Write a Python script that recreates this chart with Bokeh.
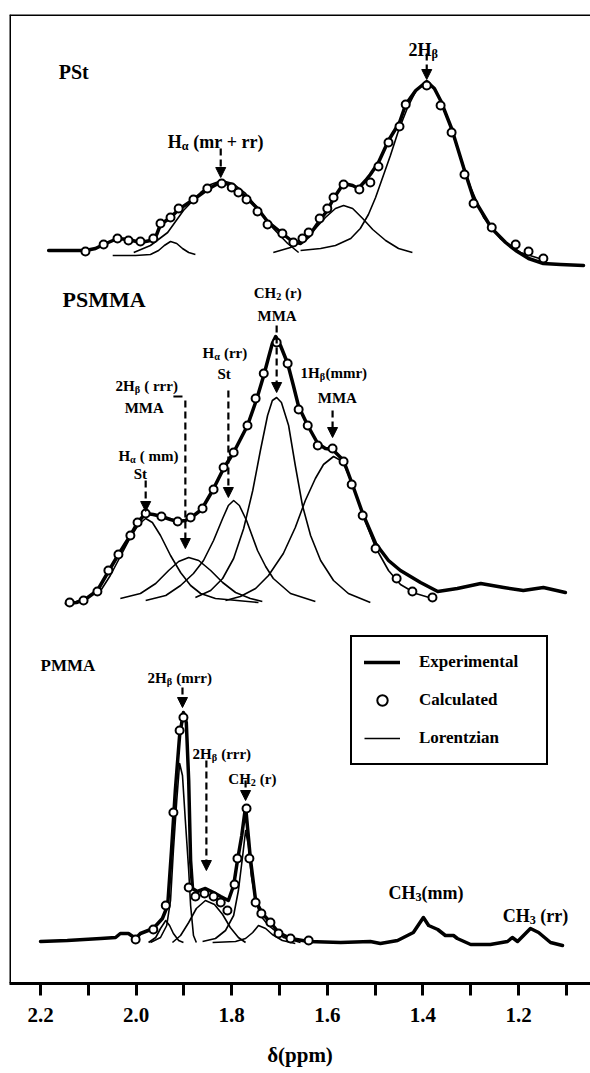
from bokeh.plotting import figure
from bokeh.models import Range1d, FixedTicker, Span, Arrow, NormalHead, Legend, LegendItem, NumeralTickFormatter
from bokeh.core.properties import value
from bokeh.embed import file_html
from bokeh.resources import INLINE

FONT = "Liberation Serif"
NB = "\u00a0"

# ---------------- data (chemical shift in ppm, intensity in arbitrary units) ----------------
tick_values = [2.2, 2.0, 1.8, 1.6, 1.4, 1.2]
minor_tick_values = [2.1, 1.9, 1.7, 1.5, 1.3, 1.1]

# baseline offsets of the stacked spectra
offset_pst = 731
offset_psmma = 383
offset_pmma = 41

# PSt
pst_exp_x = [2.183, 2.106, 2.085, 2.068, 2.039, 2.016, 1.991, 1.970, 1.957, 1.949, 1.928, 1.911, 1.880, 1.851, 1.821,
             1.803, 1.788, 1.769, 1.746, 1.725, 1.694, 1.673, 1.656, 1.639, 1.616, 1.600, 1.587, 1.566, 1.547, 1.535,
             1.520, 1.510, 1.493, 1.472, 1.449, 1.436, 1.415, 1.392, 1.376, 1.363, 1.340, 1.313, 1.294, 1.256, 1.227,
             1.206, 1.179, 1.148, 1.112, 1.064]
pst_exp_y = [2, 2, 4, 8, 14, 13, 10, 12, 18, 28, 35, 43, 53, 63, 71, 67, 62, 55, 44, 31, 19, 11, 9, 16, 32, 42, 54,
             69, 67, 64, 72, 78, 90, 112, 130, 148, 162, 171, 164, 152, 124, 82, 54, 24, 10, 2, -6, -11, -12, -13]
pst_calc_x = [2.106, 2.068, 2.039, 2.016, 1.991, 1.964, 1.949, 1.928, 1.911, 1.880, 1.851, 1.821, 1.800, 1.786, 1.769,
              1.746, 1.725, 1.694, 1.671, 1.652, 1.639, 1.616, 1.600, 1.587, 1.566, 1.533, 1.510, 1.493, 1.472, 1.449,
              1.436, 1.392, 1.363, 1.340, 1.313, 1.294, 1.256, 1.206, 1.179, 1.148]
pst_calc_y = [1, 8, 14, 12, 11, 14, 29, 35, 44, 53, 64, 69, 65, 60, 53, 41, 28, 19, 10, 14, 20, 34, 44, 55, 68, 63,
              70, 86, 110, 126, 148, 167, 147, 120, 78, 49, 25, 8, 1, -6]
pst_lor1_x = [2.049, 2.001, 1.970, 1.953, 1.941, 1.928, 1.915, 1.903, 1.890, 1.876]
pst_lor1_y = [-3, -3, -2, 2, 7, 11, 9, 4, 0, -2]
pst_lor2_x = [2.005, 1.970, 1.934, 1.901, 1.865, 1.844, 1.821, 1.798, 1.771, 1.746, 1.729, 1.713, 1.683, 1.660]
pst_lor2_y = [0, 7, 20, 42, 60, 68, 72, 69, 59, 44, 33, 24, 9, 0]
pst_lor3_x = [1.713, 1.677, 1.646, 1.625, 1.604, 1.583, 1.566, 1.547, 1.526, 1.505, 1.478, 1.451, 1.422]
pst_lor3_y = [0, 5, 14, 24, 35, 44, 47, 44, 34, 23, 12, 4, 0]
pst_lor4_x = [1.656, 1.614, 1.583, 1.551, 1.531, 1.514, 1.499, 1.485, 1.468, 1.451, 1.432, 1.413, 1.392, 1.374,
              1.357, 1.328, 1.300, 1.273, 1.238, 1.196, 1.143]
pst_lor4_y = [2, 4, 7, 14, 24, 38, 55, 74, 97, 122, 145, 163, 170, 163, 146, 105, 65, 35, 14, 0, -8]

# PSMMA
psmma_exp_x = [2.146, 2.125, 2.104, 2.081, 2.058, 2.037, 2.012, 1.997, 1.980, 1.964, 1.947, 1.928, 1.913, 1.897,
               1.882, 1.863, 1.840, 1.817, 1.796, 1.767, 1.748, 1.733, 1.723, 1.715, 1.708, 1.698, 1.683, 1.671,
               1.660, 1.641, 1.620, 1.604, 1.589, 1.566, 1.549, 1.526, 1.499, 1.472, 1.447, 1.405, 1.369, 1.328,
               1.279, 1.231, 1.190, 1.148, 1.102]
psmma_exp_y = [-3, -2, 2, 10, 29, 46, 65, 78, 87, 86, 84, 81, 79, 80, 84, 91, 110, 132, 148, 175, 201, 225, 243,
               257, 264, 255, 237, 215, 194, 175, 157, 152, 151, 140, 118, 87, 57, 40, 30, 18, 9, 12, 17, 13, 10,
               13, 8]
psmma_calc_x = [2.139, 2.110, 2.081, 2.058, 2.037, 2.012, 1.997, 1.980, 1.947, 1.913, 1.886, 1.861, 1.838, 1.817,
                1.796, 1.767, 1.750, 1.733, 1.706, 1.683, 1.660, 1.641, 1.620, 1.589, 1.566, 1.549, 1.526, 1.499,
                1.455, 1.422, 1.380]
psmma_calc_y = [-2, 0, 9, 30, 46, 65, 78, 87, 84, 79, 83, 92, 111, 133, 148, 175, 202, 227, 258, 237, 191, 175,
                155, 152, 139, 116, 85, 52, 22, 9, 3]
psmma_lor1_x = [2.074, 2.054, 2.033, 2.012, 1.995, 1.980, 1.966, 1.949, 1.928, 1.907, 1.886, 1.865, 1.834, 1.744]
psmma_lor1_y = [10, 25, 44, 63, 76, 82, 78, 65, 45, 28, 15, 7, 2, -2]
psmma_lor2_x = [2.033, 1.991, 1.959, 1.932, 1.911, 1.890, 1.869, 1.844, 1.819, 1.792, 1.761, 1.736]
psmma_lor2_y = [2, 7, 17, 30, 39, 43, 40, 30, 18, 8, 2, -1]
psmma_lor3_x = [1.980, 1.938, 1.907, 1.880, 1.859, 1.838, 1.819, 1.807, 1.796, 1.784, 1.769, 1.746, 1.729, 1.713,
                1.677, 1.625]
psmma_lor3_y = [0, 5, 15, 27, 40, 60, 82, 95, 100, 95, 80, 50, 34, 22, 7, -1]
psmma_lor4_x = [1.876, 1.844, 1.819, 1.796, 1.775, 1.756, 1.740, 1.725, 1.715, 1.706, 1.696, 1.681, 1.667, 1.652,
                1.635, 1.614, 1.587, 1.556, 1.510]
psmma_lor4_y = [3, 10, 22, 42, 72, 110, 150, 185, 200, 203, 198, 175, 135, 95, 65, 40, 20, 7, -2]
psmma_lor5_x = [1.813, 1.782, 1.750, 1.723, 1.692, 1.667, 1.646, 1.625, 1.608, 1.587, 1.568, 1.549, 1.526, 1.499,
                1.472, 1.447, 1.415, 1.380]
psmma_lor5_y = [0, 4, 12, 25, 47, 73, 100, 122, 136, 144, 139, 118, 86, 53, 30, 16, 7, 2]

# PMMA
pmma_exp_x = [2.200, 2.144, 2.074, 2.043, 2.033, 2.016, 2.001, 1.991, 1.964, 1.945, 1.934, 1.926, 1.918, 1.909,
              1.901, 1.895, 1.890, 1.886, 1.882, 1.872, 1.855, 1.838, 1.823, 1.807, 1.796, 1.788, 1.779, 1.771,
              1.765, 1.761, 1.750, 1.736, 1.717, 1.702, 1.677, 1.639, 1.572, 1.510, 1.489, 1.453, 1.420, 1.399,
              1.388, 1.369, 1.353, 1.336, 1.328, 1.300, 1.259, 1.223, 1.213, 1.202, 1.175, 1.158, 1.133, 1.108]
pmma_exp_y = [1, 2, 4, 5, 9, 9, 4, 9, 14, 24, 37, 92, 152, 207, 230, 220, 162, 82, 54, 51, 54, 50, 46, 42, 57, 82,
              107, 136, 105, 84, 42, 29, 19, 10, 4, 1, 0, 1, -1, 2, 10, 25, 17, 13, 7, 7, 4, -2, -2, 1, 5, 1, 14,
              10, 0, -3]
pmma_calc_x = [2.001, 1.964, 1.938, 1.922, 1.909, 1.901, 1.890, 1.876, 1.857, 1.838, 1.823, 1.809, 1.794, 1.788,
               1.769, 1.763, 1.750, 1.738, 1.719, 1.702, 1.677, 1.639]
pmma_calc_y = [3, 13, 37, 130, 212, 225, 55, 46, 49, 46, 40, 32, 58, 84, 134, 84, 40, 29, 20, 9, 4, 2]
pmma_lor1_x = [1.974, 1.959, 1.949, 1.938, 1.930, 1.922, 1.911, 1.901]
pmma_lor1_y = [0, 5, 14, 22, 17, 9, 2, 0]
pmma_lor2_x = [1.970, 1.949, 1.936, 1.928, 1.922, 1.915, 1.909, 1.903, 1.897, 1.890, 1.886, 1.880, 1.874]
pmma_lor2_y = [0, 5, 17, 42, 92, 142, 179, 167, 122, 72, 37, 7, 0]
pmma_lor3_x = [1.924, 1.907, 1.890, 1.874, 1.855, 1.836, 1.819, 1.803, 1.786, 1.771]
pmma_lor3_y = [0, 7, 20, 34, 42, 38, 28, 15, 5, 0]
pmma_lor4_x = [1.861, 1.834, 1.813, 1.796, 1.786, 1.777, 1.771, 1.765, 1.759, 1.750, 1.740, 1.723, 1.692, 1.656]
pmma_lor4_y = [1, 4, 12, 27, 52, 87, 112, 97, 67, 42, 27, 17, 5, 0]
pmma_lor5_x = [1.840, 1.792, 1.771, 1.756, 1.744, 1.729, 1.715, 1.694, 1.667]
pmma_lor5_y = [0, 1, 4, 10, 17, 14, 8, 2, -1]

# ---------------- figure ----------------
X_START, X_END = 2.2649, 1.0494
p = figure(width=590, height=1073, output_backend="svg", toolbar_location=None,
           x_range=Range1d(X_START, X_END), y_range=Range1d(0, 969),
           min_border_left=9, min_border_right=0, min_border_top=14, min_border_bottom=90)
p.outline_line_color = None
p.grid.visible = False
p.yaxis.visible = False
p.background_fill_color = "white"
p.border_fill_color = "white"

ax = p.xaxis[0]
ax.ticker = FixedTicker(ticks=tick_values, minor_ticks=minor_tick_values)
ax.formatter = NumeralTickFormatter(format="0.0")
ax.axis_line_width = 3
ax.major_tick_line_width = 3
ax.minor_tick_line_width = 3
ax.major_tick_in = 0
ax.major_tick_out = 12
ax.minor_tick_in = 0
ax.minor_tick_out = 12
ax.major_label_text_font = FONT
ax.major_label_text_font_style = "bold"
ax.major_label_text_font_size = "21px"
ax.major_label_text_color = "black"
ax.major_label_standoff = 12
ax.axis_label = "δ(ppm)"
ax.axis_label_text_font = FONT
ax.axis_label_text_font_style = "bold"
ax.axis_label_text_font_size = "21px"
ax.axis_label_text_color = "black"
ax.axis_label_standoff = 18

p.add_layout(Span(location=X_START, dimension="height", line_color="black", line_width=3))
p.add_layout(Span(location=969, dimension="width", line_color="black", line_width=3))


def shift(ys, off):
    return [v + off for v in ys]


LOR_W = 1.6
EXP_W = 3.5
lor_sets = [
    (pst_lor1_x, pst_lor1_y, offset_pst), (pst_lor2_x, pst_lor2_y, offset_pst),
    (pst_lor3_x, pst_lor3_y, offset_pst), (pst_lor4_x, pst_lor4_y, offset_pst),
    (psmma_lor1_x, psmma_lor1_y, offset_psmma), (psmma_lor2_x, psmma_lor2_y, offset_psmma),
    (psmma_lor3_x, psmma_lor3_y, offset_psmma), (psmma_lor4_x, psmma_lor4_y, offset_psmma),
    (psmma_lor5_x, psmma_lor5_y, offset_psmma),
    (pmma_lor1_x, pmma_lor1_y, offset_pmma), (pmma_lor2_x, pmma_lor2_y, offset_pmma),
    (pmma_lor3_x, pmma_lor3_y, offset_pmma), (pmma_lor4_x, pmma_lor4_y, offset_pmma),
    (pmma_lor5_x, pmma_lor5_y, offset_pmma),
]
lor_renderers = []
for xs, ys, off in lor_sets:
    lor_renderers.append(p.line(xs, shift(ys, off), line_color="black", line_width=LOR_W, line_join="round"))

exp_renderers = []
for xs, ys, off in [(pst_exp_x, pst_exp_y, offset_pst), (psmma_exp_x, psmma_exp_y, offset_psmma),
                    (pmma_exp_x, pmma_exp_y, offset_pmma)]:
    exp_renderers.append(p.line(xs, shift(ys, off), line_color="black", line_width=EXP_W,
                                line_join="round", line_cap="round"))

calc_renderers = []
for xs, ys, off in [(pst_calc_x, pst_calc_y, offset_pst), (psmma_calc_x, psmma_calc_y, offset_psmma),
                    (pmma_calc_x, pmma_calc_y, offset_pmma)]:
    calc_renderers.append(p.scatter(xs, shift(ys, off), marker="circle", size=8, fill_color="white",
                                    line_color="black", line_width=2))

# ---------------- annotations ----------------
W = {' ': .25, NB: .25, '(': .333, ')': .333, '+': .570, '1': .5, '2': .5, '3': .5, 'A': .722, 'C': .722,
     'H': .778, 'M': .944, 'S': .556, 'P': .611, 'm': .833, 'r': .444, 't': .333, 'α': .58, 'β': .56}


def rich(x, y, parts, size):
    dx = 0.0
    for txt, sub in parts:
        fs = size * 0.68 if sub else size
        yy = y - 0.25 * size if sub else y
        p.text(x=[x], y=[yy], text=[txt.replace(" ", NB)], x_offset=dx, text_font=value(FONT),
               text_font_style="bold", text_font_size=f"{fs:.1f}px", text_color="black",
               text_baseline="alphabetic", text_align="left")
        dx += sum(W.get(c, .5) for c in txt) * fs


rich(2.162, 912, [("PSt", 0)], 20)
rich(2.154, 684, [("PSMMA", 0)], 22)
rich(2.200, 318, [("PMMA", 0)], 17)
rich(1.934, 842, [("H", 0), ("α", 1), (" (mr + rr)", 0)], 18)
rich(1.430, 934, [("2H", 0), ("β", 1)], 18)
rich(1.754, 691, [("CH", 0), ("2", 1), (" (r)", 0)], 15)
rich(1.746, 668, [("MMA", 0)], 15)
rich(1.861, 631, [("H", 0), ("α", 1), (" (rr)", 0)], 15)
rich(1.830, 610, [("St", 0)], 15)
rich(2.043, 598, [("2H", 0), ("β", 1), (" ( rrr)", 0)], 15)
rich(2.024, 576, [("MMA", 0)], 15)
rich(2.037, 528, [("H", 0), ("α", 1), (" ( mm)", 0)], 15)
rich(2.005, 510, [("St", 0)], 15)
rich(1.656, 611, [("1H", 0), ("β", 1), ("(mmr)", 0)], 15)
rich(1.620, 586, [("MMA", 0)], 15)
rich(1.976, 306, [("2H", 0), ("β", 1), (" (mrr)", 0)], 15)
rich(1.882, 230, [("2H", 0), ("β", 1), (" (rrr)", 0)], 15)
rich(1.807, 205, [("CH", 0), ("2", 1), (" (r)", 0)], 15)
rich(1.472, 91, [("CH", 0), ("3", 1), ("(mm)", 0)], 18)
rich(1.233, 68, [("CH", 0), ("3", 1), (" (rr)", 0)], 18)

arrows = [
    (1.823, 835, 806), (1.392, 930, 904), (1.706, 658, 591), (1.807, 593, 486),
    (1.897, 583, 435), (1.980, 503, 472), (1.589, 573, 546), (1.903, 296, 276),
    (1.853, 223, 113), (1.771, 203, 183),
]
for ax_x, y0, y1 in arrows:
    p.add_layout(Arrow(end=NormalHead(size=10, fill_color="black", line_color="black", line_width=1),
                       x_start=ax_x, y_start=y0, x_end=ax_x, y_end=y1,
                       line_color="black", line_width=2.2, line_dash="7 4"))
p.line([1.922, 1.903], [587, 587], line_color="black", line_width=2.2)

legend = Legend(items=[LegendItem(label="Experimental", renderers=[exp_renderers[0]]),
                       LegendItem(label="Calculated", renderers=[calc_renderers[0]]),
                       LegendItem(label="Lorentzian", renderers=[lor_renderers[0]])],
                location=(341, 218), border_line_color="black", border_line_width=2.5,
                border_line_alpha=1.0,
                background_fill_color="white", background_fill_alpha=1.0,
                padding=12, spacing=12, glyph_width=36, glyph_height=26, label_height=26,
                label_width=115, label_standoff=19, margin=0,
                label_text_font=FONT, label_text_font_style="bold", label_text_font_size="17px",
                label_text_color="black")
p.add_layout(legend)

open("out.html", "w").write(file_html(p, INLINE))
